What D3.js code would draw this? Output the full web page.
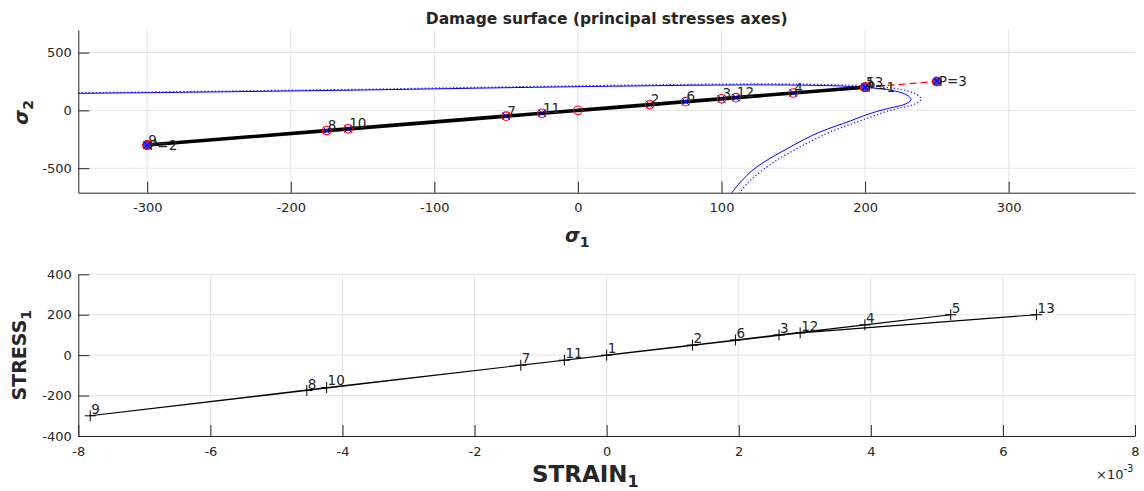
<!DOCTYPE html>
<html>
<head>
<meta charset="utf-8">
<script src="https://cdn.jsdelivr.net/npm/d3@7"></script>
<style>
  body { margin:0; background:#fff; }
  svg text { font-family: "DejaVu Sans", sans-serif; fill:#262626; }
</style>
</head>
<body>
<svg id="chart" width="1144" height="491"></svg>
<script>
// ---------- data ----------
const steps   = ["1","2","3","4","5","6","7","8","9","10","11","12","13"];
const strain  = [0, 1.30, 2.61, 3.91, 5.21, 1.95, -1.30, -4.54, -7.82, -4.24, -0.64, 2.93, 6.51]; // x 1e-3
const stress  = [0, 50, 100, 150, 200, 75, -50, -175, -300, -160, -25, 110, 200];
const sigma1  = [0, 50, 100, 150, 200, 75, -50, -175, -300, -160, -25, 110, 200];
const sigma2  = [0, 50, 100, 150, 200, 75, -50, -175, -300, -160, -25, 110, 200];

const pLabels = ["P=1", "P=2", "P=3"];
const pSigma1 = [200, -300, 250];
const pSigma2 = [200, -300, 250];

// damage surface (solid)
const surfS1 = [-348,-300,-250,-200,-150,-100,-50,0,50,100,140,170,190,205,218,227,231,232,228,217,208,199,190,180,168,157,146,134,122,114,107];
const surfS2 = [147,153,160,168,176,186,196,205,213,219,220,215,207,194,175,145,115,91,54,19,-10,-47,-90,-134,-190,-255,-330,-413,-514,-610,-715];
// damage surface (dotted)
const dotS1 = [-348,-300,-250,-200,-150,-100,-50,0,50,100,145,176,197,212,225,234,238,239,235,224,215,206,196,186,174,163,151,139,127,118,111];
const dotS2 = [152,158,166,174,182,193,203,212,220,227,228,222,214,201,181,150,119,94,56,20,-10,-48,-93,-138,-196,-263,-341,-427,-532,-631,-740];

const topXTicks = [-300,-200,-100,0,100,200,300];
const topYTicks = [-500,0,500];
const botXTicks = [-8,-6,-4,-2,0,2,4,6,8];
const botYTicks = [-400,-200,0,200,400];

// ---------- layout ----------
const svg = d3.select("#chart");
const L = 78.3, R = 1135;
const T1 = 30, B1 = 192.7;
const T2 = 274.3, B2 = 436;

const x1 = d3.scaleLinear([-348, 388], [L, R]);
const y1 = d3.scaleLinear([-712, 695], [B1, T1]);
const x2 = d3.scaleLinear([-8, 8], [L, R]);
const y2 = d3.scaleLinear([-400, 400], [B2, T2]);

const gridCol = "#e4e4e4", axCol = "#262626";

const defs = svg.append("defs");
defs.append("clipPath").attr("id","c1").append("rect").attr("x",L).attr("y",T1).attr("width",R-L).attr("height",B1-T1);
defs.append("clipPath").attr("id","c2").append("rect").attr("x",L-8).attr("y",T2).attr("width",R-L+16).attr("height",B2-T2);

function grid(g, xs, ys, xt, yt, T, B) {
  g.selectAll("line.gx").data(xt).join("line").attr("class","gx")
    .attr("x1", d=>xs(d)).attr("x2", d=>xs(d)).attr("y1", T).attr("y2", B)
    .attr("stroke", gridCol).attr("stroke-width", 1);
  g.selectAll("line.gy").data(yt).join("line").attr("class","gy")
    .attr("y1", d=>ys(d)).attr("y2", d=>ys(d)).attr("x1", L).attr("x2", R)
    .attr("stroke", gridCol).attr("stroke-width", 1);
}
function axes(xs, ys, xt, yt, B, pad) {
  const gx = svg.append("g").attr("transform", `translate(0,${B})`)
    .call(d3.axisBottom(xs).tickValues(xt).tickFormat(d=>String(d)).tickSize(-11).tickSizeOuter(0).tickPadding(pad));
  const gy = svg.append("g").attr("transform", `translate(${L},0)`)
    .call(d3.axisLeft(ys).tickValues(yt).tickFormat(d=>String(d)).tickSize(-11).tickSizeOuter(0).tickPadding(6.5));
  [gx, gy].forEach(g => {
    g.selectAll("path.domain").attr("stroke", axCol).attr("stroke-width", 1);
    g.selectAll(".tick line").attr("stroke", axCol).attr("stroke-width", 1);
    g.selectAll(".tick text").attr("font-size", 13).attr("fill", axCol)
      .attr("font-family", "DejaVu Sans, sans-serif");
  });
}

// ---------- top plot ----------
const g1 = svg.append("g");
grid(g1, x1, y1, topXTicks, topYTicks, T1, B1);
const p1 = svg.append("g").attr("clip-path", "url(#c1)");

const surf = surfS1.map((v,i)=>[v, surfS2[i]]);
const dots = dotS1.map((v,i)=>[v, dotS2[i]]);
const line1 = d3.line().x(d=>x1(d[0])).y(d=>y1(d[1])).curve(d3.curveCatmullRom.alpha(0.5));
p1.append("path").attr("d", line1(dots)).attr("fill","none").attr("stroke","#0000ff")
  .attr("stroke-width",1.3).attr("stroke-dasharray","1.3,2.2").attr("opacity",0.85);
p1.append("path").attr("d", line1(surf)).attr("fill","none").attr("stroke","#0000ff").attr("stroke-width",1);

const pPts = pSigma1.map((v,i)=>[v, pSigma2[i]]);
p1.append("path").attr("d", d3.line().x(d=>x1(d[0])).y(d=>y1(d[1]))(pPts))
  .attr("fill","none").attr("stroke","#ff0000").attr("stroke-width",1.2).attr("stroke-dasharray","7,4");

const pts1 = sigma1.map((v,i)=>[v, sigma2[i]]);
p1.append("path").attr("d", d3.line().x(d=>x1(d[0])).y(d=>y1(d[1]))(pts1))
  .attr("fill","none").attr("stroke","#000").attr("stroke-width",3.6).attr("stroke-linejoin","round");

function xMark(g, cx, cy, s, col) {
  g.append("path").attr("d", `M${cx-s},${cy-s}L${cx+s},${cy+s}M${cx-s},${cy+s}L${cx+s},${cy-s}`)
    .attr("stroke", col).attr("stroke-width", 1).attr("fill","none");
}
// P markers
pPts.forEach(d => {
  const cx = x1(d[0]), cy = y1(d[1]);
  p1.append("circle").attr("cx",cx).attr("cy",cy).attr("r",4.5).attr("fill","#3b3bd9").attr("stroke","#ff0000").attr("stroke-width",1.1);
  xMark(p1, cx, cy, 3.3, "#0000ff");
});
// step markers
pts1.forEach((d,i) => {
  const cx = x1(d[0]), cy = y1(d[1]);
  p1.append("circle").attr("cx",cx).attr("cy",cy).attr("r",4.3).attr("fill","none").attr("stroke","#ff0000").attr("stroke-width",1.1);
  if (i > 0) xMark(p1, cx, cy, 3.7, "#0000ff");
});
// labels
pts1.forEach((d,i) => {
  if (i === 0) return;
  svg.append("text").attr("x", x1(d[0]) + 1).attr("y", y1(d[1]) - 0.5)
    .attr("font-size", 13.5).text(steps[i]);
});
pPts.forEach((d,i) => {
  svg.append("text").attr("x", x1(d[0]) + 2).attr("y", y1(d[1]) + 4.8)
    .attr("font-size", 13.5).text(pLabels[i]);
});
axes(x1, y1, topXTicks, topYTicks, B1, 10.5);

// ---------- bottom plot ----------
const g2 = svg.append("g");
grid(g2, x2, y2, botXTicks, botYTicks, T2, B2);
const p2 = svg.append("g").attr("clip-path", "url(#c2)");
const pts2 = strain.map((v,i)=>[v, stress[i]]);
p2.append("path").attr("d", d3.line().x(d=>x2(d[0])).y(d=>y2(d[1]))(pts2))
  .attr("fill","none").attr("stroke","#000").attr("stroke-width",1.1);
pts2.forEach((d,i) => {
  const cx = x2(d[0]), cy = y2(d[1]);
  p2.append("path").attr("d", `M${cx-5.5},${cy}L${cx+5.5},${cy}M${cx},${cy-5.5}L${cx},${cy+5.5}`)
    .attr("stroke","#000").attr("stroke-width",1);
  svg.append("text").attr("x", cx + 1).attr("y", cy - 2).attr("font-size", 13.5).attr("fill","#000").text(steps[i]);
});
axes(x2, y2, botXTicks, botYTicks, B2, 11);

// ---------- titles & labels ----------
svg.append("text").attr("x", (L+R)/2).attr("y", 23.5).attr("text-anchor","middle")
  .attr("font-size", 15.5).attr("font-weight","bold").attr("fill","#000")
  .text("Damage surface (principal stresses axes)");

const sx = svg.append("text").attr("x", 565).attr("y", 242)
  .attr("font-weight","bold").attr("fill","#262626");
sx.append("tspan").attr("font-size", 19).attr("font-style","italic").text("σ");
sx.append("tspan").attr("font-size", 14).attr("dy", 5).text("1");

const sy = svg.append("text").attr("transform", `translate(28,${(T1+B1)/2 + 1}) rotate(-90)`)
  .attr("text-anchor","middle").attr("font-weight","bold").attr("fill","#262626");
sy.append("tspan").attr("font-size", 19).attr("font-style","italic").text("σ");
sy.append("tspan").attr("font-size", 14).attr("dy", 5).text("2");

const xl = svg.append("text").attr("x", 532).attr("y", 482)
  .attr("font-weight","bold").attr("fill","#262626");
xl.append("tspan").attr("font-size", 23).text("STRAIN");
xl.append("tspan").attr("font-size", 16).attr("dy", 5).text("1");

const yl = svg.append("text").attr("transform", `translate(26,${(T2+B2)/2}) rotate(-90)`)
  .attr("text-anchor","middle").attr("font-weight","bold").attr("fill","#262626");
yl.append("tspan").attr("font-size", 19).text("STRESS");
yl.append("tspan").attr("font-size", 14).attr("dy", 5).text("1");

const ex = svg.append("text").attr("x", 1096).attr("y", 479).attr("fill","#262626");
ex.append("tspan").attr("font-size", 13).text("×10");
ex.append("tspan").attr("font-size", 10).attr("dy", -7).text("-3");
</script>
</body>
</html>
